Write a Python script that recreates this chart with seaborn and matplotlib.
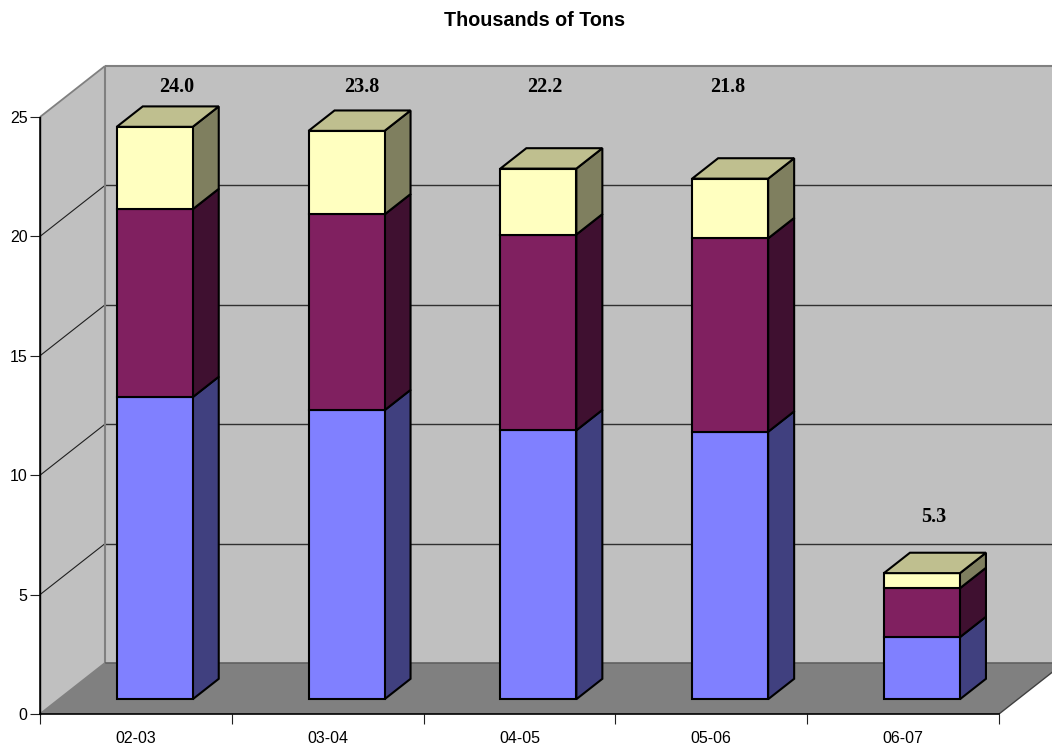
import matplotlib
matplotlib.use("Agg")
import matplotlib.pyplot as plt
from matplotlib.patches import Polygon
from matplotlib.transforms import Affine2D, IdentityTransform
import pandas as pd
import seaborn as sns

seasons = ["02-03", "03-04", "04-05", "05-06", "06-07"]
bottom_vals = [12.65, 12.1, 11.26, 11.2, 2.6]
middle_vals = [7.87, 8.2, 8.2, 8.1, 2.05]
top_vals = [3.45, 3.5, 2.76, 2.5, 0.63]
totals = [24.0, 23.8, 22.2, 21.8, 5.3]
label_shift = [22, 15, 6, -2, 12]  # excel placed these oddly

front_cols = ["#8080ff", "#802060", "#ffffc0"]
side_cols = ["#40407f", "#3f1030", "#7f7f5f"]
top_col = "#bfbf8f"

W, H = 1052, 749
DEPTH_X, DEPTH_Y = 65, 51
BAR_FRONT, BAR_BACK = 0.29, 0.69
px = IdentityTransform()


def depth(ax, f, dx=0):
    # slide a layer of the chart back into the fake 3d space, in pixels
    return ax.transData + Affine2D().translate(f * DEPTH_X + dx, f * DEPTH_Y)


sns.set_theme(style="white")
plt.rcParams["font.family"] = ["Liberation Sans", "DejaVu Sans"]

fig = plt.figure(figsize=(W / 100, H / 100), dpi=100)
ax = fig.add_axes([40 / W, (H - 714) / H, 959 / W, 597 / H])
ax.patch.set_visible(False)

# stacked bars first, seaborn resets the limits
df = pd.DataFrame({"season": seasons, "a": bottom_vals, "b": middle_vals, "c": top_vals})
gap_w = 76 / (959 / 5)
base = [0.0] * len(seasons)
layers = []
for col, fc in zip(["a", "b", "c"], front_cols):
    n = len(ax.patches)
    sns.barplot(data=df, x="season", y=col, bottom=base, color=fc, saturation=1,
                width=gap_w, edgecolor="black", linewidth=1.5, ax=ax, zorder=3)
    layers.append(list(ax.patches[n:]))
    base = [s + v for s, v in zip(base, df[col])]

ymax = 25
ax.set_xlim(-0.5, 4.5)
ax.set_ylim(0, ymax)
xl, xr = ax.get_xlim()

front = depth(ax, BAR_FRONT)
rear = depth(ax, BAR_BACK)
flat = depth(ax, 0)
back = depth(ax, 1)

for bars, fc, sc in zip(layers, front_cols, side_cols):
    for bar in bars:
        bar.set_transform(front)
        bar.set_facecolor(fc)
        bar.set_clip_on(False)
        x1 = bar.get_x() + bar.get_width()
        y0, y1 = bar.get_y(), bar.get_y() + bar.get_height()
        pts = list(front.transform([(x1, y0), (x1, y1)])) + list(rear.transform([(x1, y1), (x1, y0)]))
        ax.add_patch(Polygon(pts, transform=px, fc=sc, ec="black", lw=1.5, zorder=2.9, clip_on=False))

# lids
for i, h in enumerate(base):
    x0, x1 = i - gap_w / 2, i + gap_w / 2
    pts = list(front.transform([(x0, h), (x1, h)])) + list(rear.transform([(x1, h), (x0, h)]))
    ax.add_patch(Polygon(pts, transform=px, fc=top_col, ec="black", lw=1.5, zorder=3.1, clip_on=False))

# walls and floor
wall = back.transform([(xl, 0), (xr + 0.2, 0), (xr + 0.2, ymax), (xl, ymax)])
ax.add_patch(Polygon(wall, transform=px, fc="#c0c0c0", ec="none", clip_on=False, zorder=0.1))
side = list(flat.transform([(xl, 0), (xl, ymax)])) + list(back.transform([(xl, ymax), (xl, 0)]))
ax.add_patch(Polygon(side, transform=px, fc="#c0c0c0", ec="none", clip_on=False, zorder=0.2))
floor = list(flat.transform([(xl, 0), (xr, 0)])) + list(back.transform([(xr, 0), (xl, 0)]))
ax.add_patch(Polygon(floor, transform=px, fc="#808080", ec="none", clip_on=False, zorder=0.3))


def seg(a, b, col, lw):
    ax.plot([a[0], b[0]], [a[1], b[1]], transform=px, color=col, lw=lw, clip_on=False, zorder=1,
            solid_capstyle="butt")


# gridlines, wall edges
for v in [5, 10, 15, 20]:
    seg(flat.transform((xl, v)), back.transform((xl, v)), "#202020", 0.8)
    seg(back.transform((xl, v)), back.transform((xr + 0.2, v)), "#303030", 1)
seg(back.transform((xl, 0)), back.transform((xl, ymax)), "#808080", 1.5)
seg(back.transform((xl, ymax)), back.transform((xr + 0.2, ymax)), "#808080", 1.5)
seg(back.transform((xl, 0)), back.transform((xr, 0)), "#606060", 1.2)
seg(flat.transform((xl, ymax)), back.transform((xl, ymax)), "#808080", 1.3)
seg(flat.transform((xl, 0)), back.transform((xl, 0)), "#808080", 1.3)
seg(flat.transform((xr, 0)), back.transform((xr, 0)), "#404040", 1)
seg(flat.transform((xl, 0)), flat.transform((xl, ymax)), "black", 1.1)

# total labels, the tall ones all sit in one row near the top of the wall
for i, t in enumerate(totals):
    lab_y = t + 2.33 if t < 10 else 25.64
    ax.text(i, lab_y, f"{t:.1f}", transform=depth(ax, BAR_FRONT, label_shift[i]), ha="center", va="center",
            family="Liberation Serif", fontweight="bold", fontsize=14.5, color="black", clip_on=False, zorder=5)

ax.set_xlabel("")
ax.set_ylabel("")
ax.set_yticks([0, 5, 10, 15, 20, 25])
ax.set_xticks([-0.5, 0.5, 1.5, 2.5, 3.5, 4.5])
ax.set_xticklabels([])
ax.set_xticks(range(5), seasons, minor=True)
ax.tick_params(axis="x", which="major", length=7, width=0.8, color="#202020", bottom=True)
ax.tick_params(axis="x", which="minor", length=0, pad=12.5, labelsize=11.5, labelcolor="black", bottom=True)
ax.tick_params(axis="y", length=7, width=0.8, color="#202020", labelsize=11.5, labelcolor="black", pad=2, left=True)
sns.despine(ax=ax, top=True, right=True)
ax.spines["left"].set_color("black")
ax.spines["bottom"].set_color("black")
ax.spines["left"].set_linewidth(1)
ax.spines["bottom"].set_linewidth(1.2)

fig.text(535 / W, 1 - 20 / H, "Thousands of Tons", ha="center", va="center",
         fontweight="bold", fontsize=14.2, color="black")

fig.savefig("out.png", dpi=100)
